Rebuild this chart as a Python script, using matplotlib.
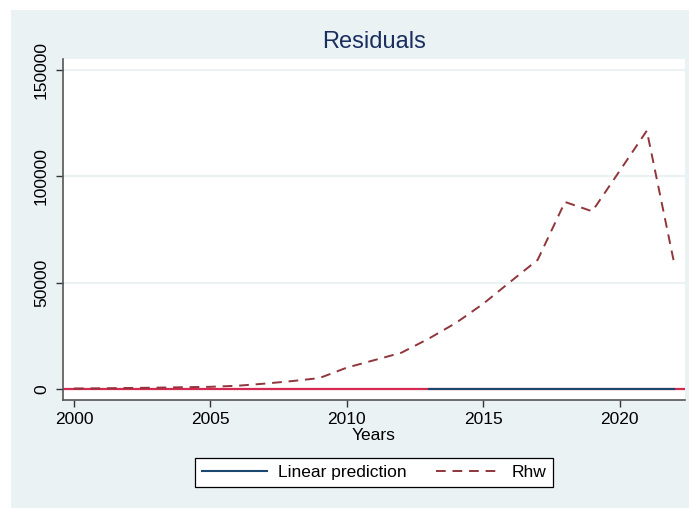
import matplotlib
matplotlib.use("Agg")
import matplotlib.pyplot as plt
from matplotlib.patches import Rectangle

years = [2000, 2001, 2002, 2003, 2004, 2005, 2006, 2007, 2008, 2009, 2010,
         2011, 2012, 2013, 2014, 2015, 2016, 2017, 2018, 2019, 2020, 2021, 2022]
rhw = [200, 300, 450, 600, 800, 1000, 1500, 2500, 3700, 5100, 10000,
       13500, 17000, 23600, 31000, 40000, 50400, 60700, 87900, 83500, 102400, 121400, 59300]
pred_years = [2013, 2014, 2015, 2016, 2017, 2018, 2019, 2020, 2021, 2022]
pred = [0, 0, 0, 0, 0, 0, 0, 0, 0, 0]
yticks = [0, 50000, 100000, 150000]
xticks = [2000, 2005, 2010, 2015, 2020]

plt.rcParams['font.family'] = ['Liberation Sans', 'DejaVu Sans']

W, H = 689, 508
fig = plt.figure(figsize=(W/100, H/100), dpi=100)
fig.patch.set_facecolor('white')
fig.patches.append(Rectangle((11/W, 0), 1 - 11/W, 1 - 10/H, transform=fig.transFigure,
                             facecolor='#EAF2F3', edgecolor='none', zorder=-10))

ax = fig.add_axes([63/W, 1 - 400/H, (685 - 63)/W, (400 - 59)/H])
ax.set_zorder(1)
ax.set_facecolor('white')

ax.axhline(0, color='#D42A52', lw=1.6, zorder=2)
ax.plot(pred_years, pred, color='#1A476F', lw=1.5, zorder=3, label='Linear prediction')
ax.plot(years, rhw, color='#90353B', lw=1.4, dashes=(5, 3.5), zorder=4, label='Rhw')

ax.set_xlim(1999.6, 2022.4)
ax.set_ylim(-5200, 155100)
ax.set_xticks(xticks)
ax.set_yticks(yticks)
ax.set_yticklabels([str(v) for v in yticks], rotation=90, va='center')
ax.tick_params(axis='both', labelsize=12.5, length=5, width=1, color='#333333', direction='out')
ax.tick_params(axis='y', pad=5)
ax.tick_params(axis='x', pad=4)
ax.grid(axis='y', color='#EAF2F3', lw=1.5, zorder=1)
ax.set_axisbelow(True)
for s in ['top', 'right']:
    ax.spines[s].set_visible(False)
for s in ['left', 'bottom']:
    ax.spines[s].set_color('#555555')
    ax.spines[s].set_linewidth(1.2)

ax.set_xlabel('Years', fontsize=12.5, labelpad=0)
fig.text(374/W, 1 - 42/H, 'Residuals', fontsize=17, color='#1A2F5F', ha='center', va='center')

leg = fig.legend(loc='center', bbox_to_anchor=(374/W, 1 - 472.5/H), ncol=2, fontsize=12.5,
                 frameon=True, fancybox=False, edgecolor='black', framealpha=1,
                 handlelength=3.75, columnspacing=1.7, borderpad=0.4, borderaxespad=0,
                 handletextpad=0.6)
leg.set_zorder(5)
leg.get_frame().set_linewidth(0.9)

fig.savefig('out.png', dpi=100)
